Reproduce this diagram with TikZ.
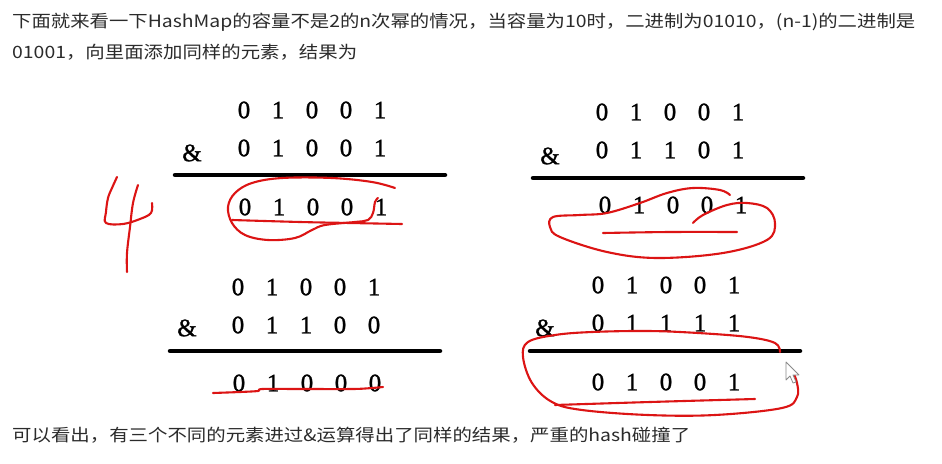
\documentclass[tikz,border=0pt]{standalone}
\usepackage{fontspec}
\setmainfont{Liberation Serif}
\newfontfamily\digitfont[FakeBold=1.2]{Liberation Serif}
\newfontfamily\cjkfont{Noto Sans CJK SC}
\usepackage{graphicx}
\definecolor{txt}{HTML}{2B2B2B}
\definecolor{pen}{HTML}{DC1414}
\definecolor{curs}{HTML}{8A8A8A}
\begin{document}
\begin{tikzpicture}[x=1pt,y=-1pt,
  digit/.style={font=\digitfont\fontsize{25}{25}\selectfont, text=black, inner sep=0pt},
  rulebar/.style={line width=4.5pt, line cap=round},
  ink/.style={draw=pen, line width=2.1pt, line cap=round, line join=round},
  para/.style={font=\cjkfont\fontsize{17}{17}\selectfont, text=txt, anchor=west, inner sep=0pt}]
\useasboundingbox[fill=white] (0,0) rectangle (942,463);

% paragraph text
\node[para] (t1) at (12,22) {\resizebox{903pt}{\height}{下面就来看一下HashMap的容量不是2的n次幂的情况，当容量为10时，二进制为01010，(n-1)的二进制是}};
\node[para] (t2) at (12,52) {\resizebox{345pt}{\height}{01001，向里面添加同样的元素，结果为}};
\node[para] (t3) at (12,435) {\resizebox{678pt}{\height}{可以看出，有三个不同的元素进过\&运算得出了同样的结果，严重的hash碰撞了}};

% block 1
\foreach \d [count=\i] in {0,1,0,0,1} \node[digit] (a1\i) at ({244+34*(\i-1)},110) {\d};
\foreach \d [count=\i] in {0,1,0,0,1} \node[digit] (a2\i) at ({244+34*(\i-1)},148) {\d};
\foreach \d [count=\i] in {0,1,0,0,1} \node[digit] (a3\i) at ({245+34*(\i-1)},207) {\d};
\node[digit] (aamp) at (192,153) {\&};
\coordinate (aL) at (175,175); \coordinate (aR) at (445,175);
\draw[rulebar] (aL) -- (aR);

% block 2
\foreach \d [count=\i] in {0,1,0,0,1} \node[digit] (b1\i) at ({602+34*(\i-1)},112) {\d};
\foreach \d [count=\i] in {0,1,1,0,1} \node[digit] (b2\i) at ({602+34*(\i-1)},150) {\d};
\foreach \d [count=\i] in {0,1,0,0,1} \node[digit] (b3\i) at ({605+34*(\i-1)},205) {\d};
\node[digit] (bamp) at (550,156) {\&};
\coordinate (bL) at (533,178); \coordinate (bR) at (803,178);
\draw[rulebar] (bL) -- (bR);

% block 3
\foreach \d [count=\i] in {0,1,0,0,1} \node[digit] (c1\i) at ({238+34*(\i-1)},287) {\d};
\foreach \d [count=\i] in {0,1,1,0,0} \node[digit] (c2\i) at ({238+34*(\i-1)},325) {\d};
\foreach \d [count=\i] in {0,1,0,0,0} \node[digit] (c3\i) at ({239+34*(\i-1)},383) {\d};
\node[digit] (camp) at (187,328) {\&};
\coordinate (cL) at (170,351); \coordinate (cR) at (440,351);
\draw[rulebar] (cL) -- (cR);

% block 4
\foreach \d [count=\i] in {0,1,0,0,1} \node[digit] (d1\i) at ({598+34*(\i-1)},285) {\d};
\foreach \d [count=\i] in {0,1,1,1,1} \node[digit] (d2\i) at ({598+34*(\i-1)},323) {\d};
\foreach \d [count=\i] in {0,1,0,0,1} \node[digit] (d3\i) at ({598+34*(\i-1)},382) {\d};
\node[digit] (damp) at (545,328) {\&};
\coordinate (dL) at (530,351); \coordinate (dR) at (800,351);
\draw[rulebar] (dL) -- (dR);

% red handwriting: "4"
\draw[ink] plot[smooth, tension=0.6] coordinates {(117,177) (112,188) (108,198) (106,212) (106,223) (123,224) (140,219) (151,213) (152,203)};
\draw[ink] plot[smooth, tension=0.6] coordinates {(138,185) (133,203) (130,227) (127,253) (127,272)};

% red: block 1
\draw[ink] plot[smooth, tension=0.6] coordinates {(395,188) (372,182) (332,178) (282,178) (252,183) (235,193) (228,207) (232,223) (245,235) (268,240) (295,238) (312,230) (325,225) (355,222) (368,220) (373,213) (375,202) (378,198)};
\draw[ink] plot[smooth, tension=0.6] coordinates {(232,220) (300,222) (350,223) (402,224)};

% red: block 2
\draw[ink] plot[smooth, tension=0.6] coordinates {(730,195) (720,190) (693,188) (667,193) (640,203) (607,213) (580,215) (553,217) (550,227) (560,237) (607,252) (657,258) (723,253) (767,240) (775,223) (767,208) (747,203) (727,205) (703,215) (693,223)};
\draw[ink] plot[smooth, tension=0.6] coordinates {(603,233) (670,232) (737,232)};

% red: block 3
\draw[ink] plot[smooth, tension=0.5] coordinates {(213,393) (240,392) (258,391) (262,389) (300,389) (353,389) (372,388) (383,387)};

% red: block 4
\draw[ink] plot[smooth, tension=0.6] coordinates {(780,352) (775,343) (748,337) (698,333) (648,331) (592,332) (555,335) (528,342) (523,357) (532,383) (552,402) (582,410) (648,415) (715,415) (782,408) (797,397) (797,383) (793,372)};
\draw[ink] plot[smooth, tension=0.6] coordinates {(555,405) (650,402) (755,399)};

% mouse cursor
\draw[curs, fill=white, line width=0.8pt, line join=round] (786,362) -- (786,380) -- (790,376) -- (793,383) -- (796,382) -- (793,375) -- (799,375) -- cycle;
\end{tikzpicture}
\end{document}
